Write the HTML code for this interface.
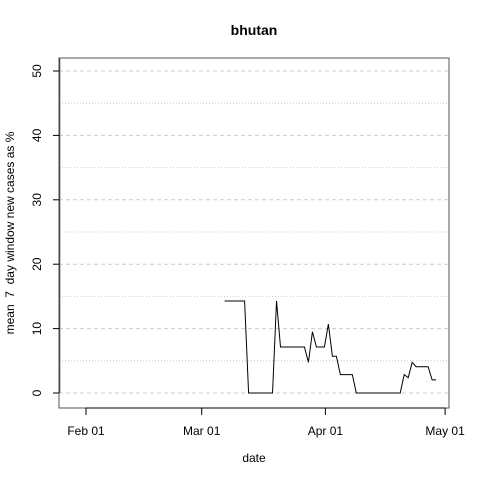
<!DOCTYPE html>
<html><head><meta charset="utf-8"><style>
body{margin:0;background:#fff}
text{font-family:"Liberation Sans",sans-serif;fill:#000}
</style></head><body>
<svg width="480" height="480" xmlns="http://www.w3.org/2000/svg">
<g id="grid"></g>
<g id="series"></g>
<rect x="59" y="58" width="390" height="350" fill="none" stroke="#555" stroke-width="1"/>
<g id="axes"></g>
<text x="254" y="35" text-anchor="middle" font-weight="bold" font-size="14">bhutan</text>
<text x="254" y="462" text-anchor="middle" font-size="12">date</text>
<text transform="translate(14,233) rotate(-90)" text-anchor="middle" font-size="12" style="white-space:pre">mean  7  day window new cases as %</text>
</svg>
<script>
const yTicks=[0,10,20,30,40,50];
const yMinor=[5,15,25,35,45];
const xTickDays=[0,29,60,90];
const xTickLabels=["Feb 01","Mar 01","Apr 01","May 01"];
const earlyDays=[-7,-7];
const earlyValues=[0,100];
const days=[35,36,37,38,39,40,41,42,43,44,45,46,47,48,49,50,51,52,53,54,55,56,57,58,59,60,61,62,63,64,65,66,67,68,69,70,71,72,73,74,75,76,77,78,79,80,81,82,83,84,85,86,87,88];
const values=[14.29,14.29,14.29,14.29,14.29,14.29,0,0,0,0,0,0,0,14.29,7.14,7.14,7.14,7.14,7.14,7.14,7.14,4.76,9.52,7.14,7.14,7.14,10.71,5.71,5.71,2.86,2.86,2.86,2.86,0,0,0,0,0,0,0,0,0,0,0,0,2.86,2.38,4.76,4.08,4.08,4.08,4.08,2.04,2.04];
const NS="http://www.w3.org/2000/svg";
const x=d=>85+3.99*d;
const y=v=>393-6.44*v;
function mk(t,a,p){const e=document.createElementNS(NS,t);for(const k in a)e.setAttribute(k,a[k]);p.appendChild(e);return e;}
const grid=document.getElementById('grid'),axes=document.getElementById('axes'),series=document.getElementById('series');
yTicks.forEach(v=>{const l=mk('line',{x1:59,x2:449,y1:y(v),y2:y(v),stroke:'#ccc','stroke-dasharray':'4,3'},grid);


const t=mk('line',{x1:53,x2:59,y1:y(v),y2:y(v),stroke:'#000'},axes);


const tx=mk('text',{transform:`translate(41,${y(v)}) rotate(-90)`,'text-anchor':'middle','font-size':12},axes);tx.textContent=v;

});
yMinor.forEach(v=>{const l=mk('line',{x1:59,x2:449,y1:y(v),y2:y(v),stroke:'#ccc','stroke-dasharray':'1,2'},grid);

});
xTickDays.forEach((d,i)=>{const t=mk('line',{x1:x(d)+1,x2:x(d)+1,y1:408,y2:415,stroke:'#000'},axes);


const tx=mk('text',{x:x(d)+1,y:435,'text-anchor':'middle','font-size':12},axes);tx.textContent=xTickLabels[i];

});
mk('line',{x1:x(0)+1,x2:x(90)+1,y1:408,y2:408,stroke:'#000'},axes);
const cp=mk('clipPath',{id:'cp'},series);mk('rect',{x:59,y:58,width:390,height:350},cp);
const e=mk('line',{x1:59.5,x2:59.5,y1:y(earlyValues[0]),y2:y(earlyValues[1]),stroke:'#333','stroke-width':1.5,'clip-path':'url(#cp)'},series);


const p=mk('polyline',{points:days.map((d,i)=>x(d)+','+y(values[i])).join(' '),fill:'none',stroke:'#000','stroke-width':1},series);


</script>
</body></html>
